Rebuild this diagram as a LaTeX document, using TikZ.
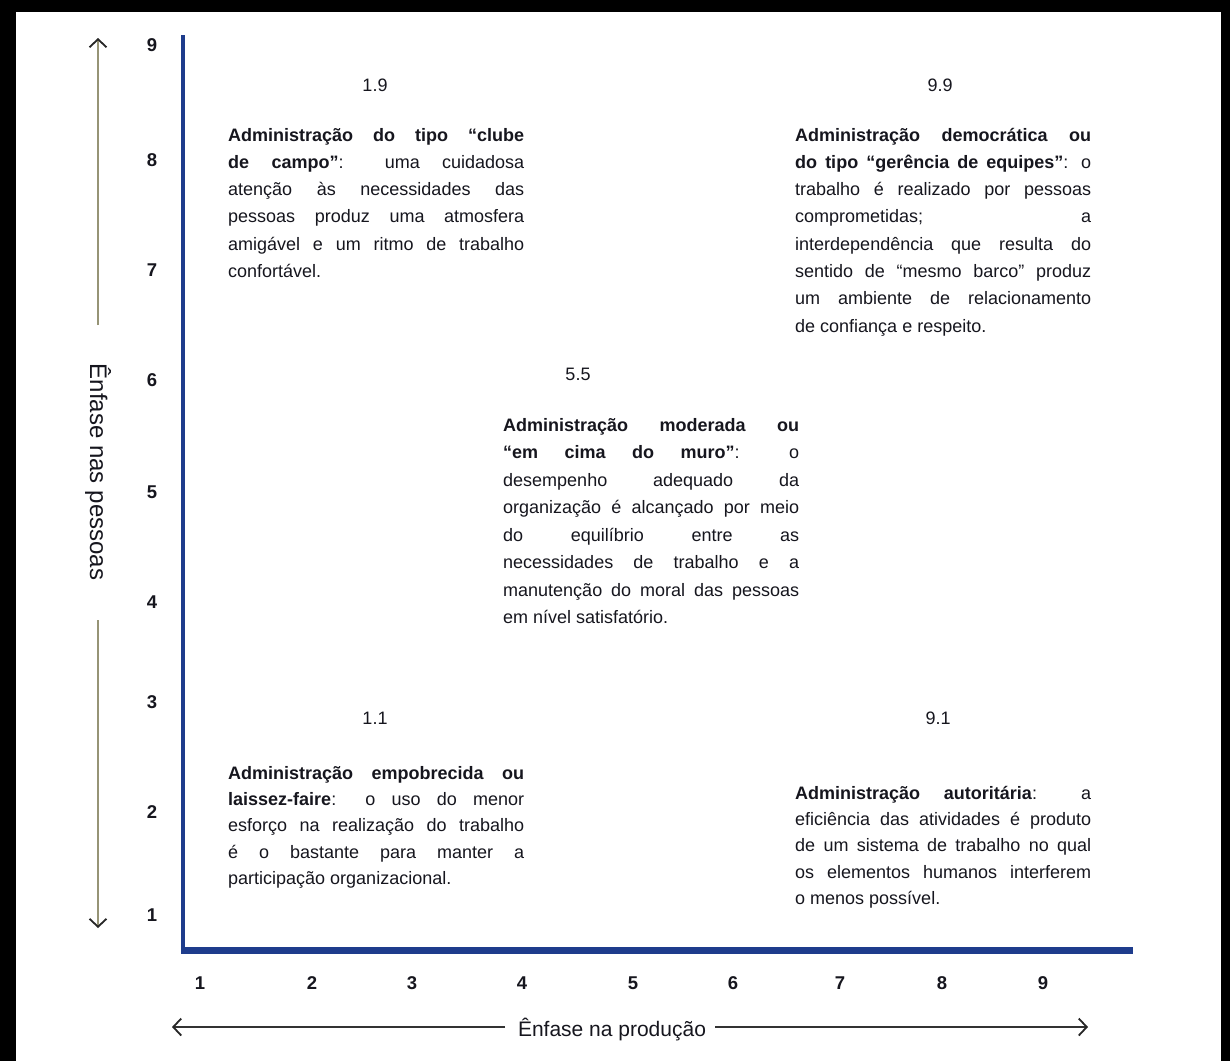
\documentclass[tikz,border=0pt]{standalone}
\usepackage{fontspec}
\setmainfont{Liberation Sans}
\usetikzlibrary{arrows.meta}

\definecolor{axisblue}{RGB}{30,60,140}
\definecolor{olivegrey}{RGB}{150,148,118}
\definecolor{ink}{RGB}{22,22,30}

% no hyphenation inside the justified descriptions
\hyphenpenalty=10000
\exhyphenpenalty=10000

\begin{document}
\begin{tikzpicture}[x=1pt,y=-1pt,
  blurb/.style={anchor=base west, inner sep=0pt, text width=296pt, align=justify,
    font=\fontsize{18}{#1}\selectfont, text=ink},
  blurb/.default=27.3,
  gridlabel/.style={font=\fontsize{18}{20}\selectfont, text=ink, inner sep=0pt},
  tick/.style={font=\bfseries\fontsize{18.5}{20}\selectfont, text=ink, inner sep=0pt},
  axistitle/.style={font=\fontsize{21}{24}\selectfont, text=ink, inner sep=0pt},
  axisline/.style={draw=axisblue, line cap=butt},
  barb/.style={-{Straight Barb[length=8pt,width=17pt,line width=1.8pt,color=black!85]}},
]
% canvas and frame
\fill[white] (0,0) rectangle (1230,1061);
\fill[black] (0,0) rectangle (1230,12);
\fill[black] (0,0) rectangle (16,1061);
\fill[black] (1221,0) rectangle (1230,1061);

% axes of the grid
\coordinate (origin) at (183,950);
\coordinate (ytopaxis) at (183,35);
\coordinate (xendaxis) at (1133,950);
\draw[axisline, line width=4pt] (ytopaxis) -- (origin);
\draw[axisline, line width=7pt] ([xshift=-2pt]origin) -- (xendaxis);

% tick numbers, vertical
\foreach \v/\yy in {9/45,8/160,7/270,6/380,5/492,4/602,3/702,2/812,1/915}
  \node[tick] (ty\v) at (152,\yy) {\v};
% tick numbers, horizontal
\foreach \v/\xx in {1/200,2/312,3/412,4/522,5/633,6/733,7/840,8/942,9/1043}
  \node[tick] (tx\v) at (\xx,983) {\v};

% vertical axis title with its arrows
\node[axistitle, font=\fontsize{24}{26}\selectfont, rotate=-90] (ytitle) at (98,472) {Ênfase nas pessoas};
\coordinate (ytip) at (98,38);
\coordinate (ygapt) at (98,325);
\coordinate (ygapb) at (98,620);
\coordinate (ybot) at (98,928);
\draw[olivegrey, line width=2.4pt, barb] (ygapt) -- (ytip);
\draw[olivegrey, line width=2.4pt, barb] (ygapb) -- (ybot);

% horizontal axis title with its arrows
\node[axistitle] (xtitle) at (612,1030) {Ênfase na produção};
\coordinate (xleft) at (172,1027);
\coordinate (xgapl) at (505,1027);
\coordinate (xgapr) at (715,1027);
\coordinate (xright) at (1088,1027);
\draw[black!80, line width=1.8pt, barb] (xgapl) -- (xleft);
\draw[black!80, line width=1.8pt, barb] (xgapr) -- (xright);

% grid positions
\node[gridlabel] (g19) at (375,85) {1.9};
\node[gridlabel] (g99) at (940,85) {9.9};
\node[gridlabel] (g55) at (578,374) {5.5};
\node[gridlabel] (g11) at (375,718) {1.1};
\node[gridlabel] (g91) at (938,718) {9.1};

% descriptions
\node[blurb] (d19) at (228,141) {\textbf{Administração do tipo “clube\linebreak de campo”}: uma cuidadosa\linebreak atenção às necessidades das\linebreak pessoas produz uma atmosfera\linebreak amigável e um ritmo de trabalho\linebreak confortável.};

\node[blurb] (d99) at (795,141) {\textbf{Administração democrática ou\linebreak do tipo “gerência de equipes”}: o\linebreak trabalho é realizado por pessoas\linebreak comprometidas; a\linebreak interdependência que resulta do\linebreak sentido de “mesmo barco” produz\linebreak um ambiente de relacionamento\linebreak de confiança e respeito.};

\node[blurb=27.5] (d55) at (503,431) {\textbf{Administração moderada ou\linebreak “em cima do muro”}: o\linebreak desempenho adequado da\linebreak organização é alcançado por meio\linebreak do equilíbrio entre as\linebreak necessidades de trabalho e a\linebreak manutenção do moral das pessoas\linebreak em nível satisfatório.};

\node[blurb=26.4] (d11) at (228,779) {\textbf{Administração empobrecida ou\linebreak laissez-faire}: o uso do menor\linebreak esforço na realização do trabalho\linebreak é o bastante para manter a\linebreak participação organizacional.};

\node[blurb=26.4] (d91) at (795,799) {\textbf{Administração autoritária}: a\linebreak eficiência das atividades é produto\linebreak de um sistema de trabalho no qual\linebreak os elementos humanos interferem\linebreak o menos possível.};

\useasboundingbox (0,0) rectangle (1230,1061);
\end{tikzpicture}
\end{document}
